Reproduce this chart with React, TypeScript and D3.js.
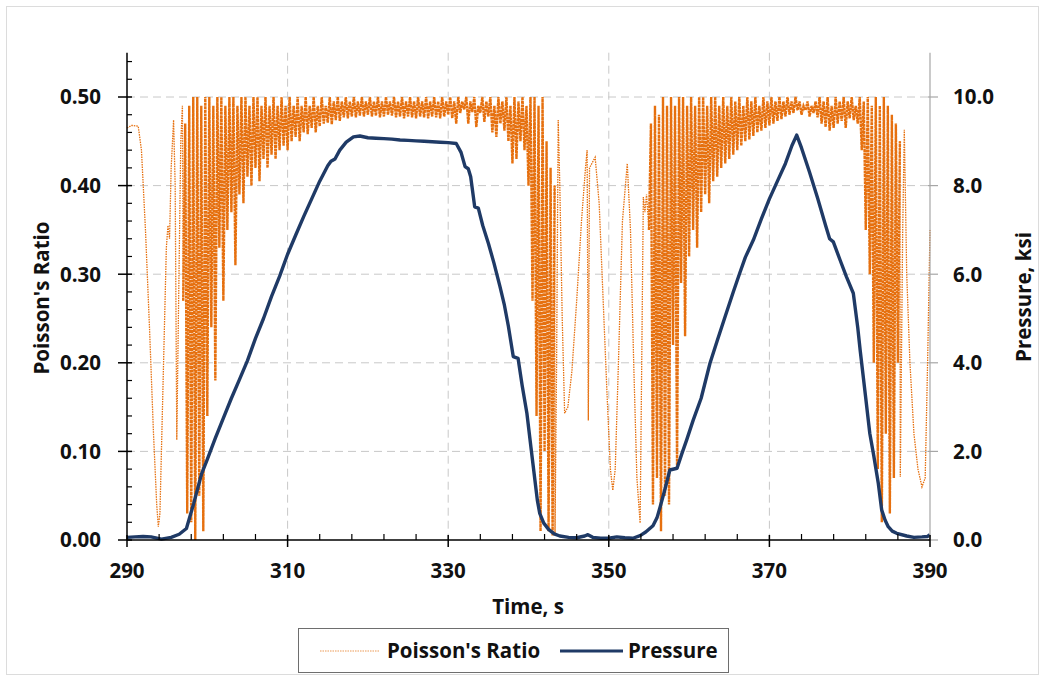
import React from "react";
import * as d3 from "d3";

// ---------- DATA ----------
const xTicksMajor = [290, 310, 330, 350, 370, 390];
const yLeftTicks = [0, 0.1, 0.2, 0.3, 0.4, 0.5];
const yRightTicks = [0, 2, 4, 6, 8, 10];

// Pressure (ksi) vs time (s)
const pressure: [number, number][] = [
  [290, 0.06], [291, 0.07], [292, 0.08], [293, 0.07], [294.3, 0.02], [295.5, 0.06], [296.5, 0.13],
  [297.4, 0.26], [298.3, 0.82], [299.3, 1.5], [300, 1.82], [301, 2.3], [302, 2.75], [303, 3.2],
  [304, 3.62], [305, 4.05], [306, 4.55], [307, 5.0], [308, 5.5], [309, 5.95], [310, 6.45],
  [311, 6.88], [312, 7.3], [313, 7.7], [314, 8.1], [315, 8.45], [315.4, 8.55], [315.9, 8.6],
  [316.5, 8.8], [317.3, 8.98], [318.2, 9.1], [319, 9.12], [320, 9.08], [321, 9.07], [322, 9.06],
  [323, 9.05], [324, 9.03], [325, 9.02], [326, 9.01], [327, 9.0], [328, 8.99], [329, 8.98],
  [330, 8.97], [331, 8.95], [331.6, 8.75], [332.1, 8.43], [332.5, 8.38], [332.8, 8.2],
  [333.3, 7.52], [333.75, 7.49], [334.3, 7.1], [335, 6.7], [335.7, 6.25], [336.45, 5.72],
  [337, 5.3], [337.5, 4.82], [338.1, 4.14], [338.7, 4.1], [339.2, 3.5], [339.8, 2.86],
  [340.3, 2.1], [340.8, 1.35], [341.1, 0.9], [341.4, 0.6], [341.9, 0.38], [342.5, 0.24],
  [343.2, 0.14], [343.9, 0.09], [345, 0.06], [346, 0.05], [347, 0.09], [347.4, 0.12],
  [348, 0.06], [349, 0.04], [350, 0.04], [351, 0.07], [352, 0.05], [353, 0.04], [353.9, 0.1],
  [354.6, 0.18], [355.5, 0.32], [356, 0.5], [356.4, 0.75], [357, 1.15], [357.6, 1.58],
  [358.5, 1.62], [359.1, 1.95], [359.7, 2.26], [360.5, 2.7], [361.5, 3.2], [362.6, 3.99],
  [363.5, 4.5], [364.5, 5.05], [365.5, 5.6], [366.3, 6.02], [367, 6.38], [368, 6.77],
  [369, 7.25], [370, 7.7], [371, 8.1], [372, 8.5], [372.8, 8.9], [373.4, 9.14], [374, 8.85],
  [375, 8.3], [376, 7.72], [377, 7.1], [377.5, 6.8], [377.96, 6.73], [378.8, 6.32],
  [379.6, 5.94], [380.45, 5.57], [381, 4.8], [381.3, 4.29], [382, 3.2], [382.5, 2.41],
  [383, 1.9], [383.56, 1.28], [383.98, 0.68], [384.4, 0.45], [384.8, 0.3], [385.3, 0.2],
  [385.85, 0.15], [387.1, 0.09], [388, 0.06], [389, 0.07], [389.7, 0.08], [390, 0.12],
];

// Poisson's ratio: sparse stretches as [time, value]
const poissonSparse1: [number, number][] = [
  [290, 0.465], [290.6, 0.468], [291.4, 0.467], [291.8, 0.44], [292.3, 0.35], [292.8, 0.24],
  [293.3, 0.12], [293.7, 0.04], [293.9, 0.015], [294.1, 0.03], [294.5, 0.18], [294.9, 0.33],
  [295.1, 0.355], [295.3, 0.34], [295.5, 0.42], [295.8, 0.474], [296.0, 0.4], [296.2, 0.113],
  [296.4, 0.25], [296.7, 0.45], [296.9, 0.49],
];
const poissonSparse2: [number, number][] = [
  [343.3, 0.005], [343.5, 0.2], [343.7, 0.474], [343.9, 0.4], [344.2, 0.25], [344.5, 0.143],
  [344.9, 0.15], [345.4, 0.19], [346, 0.27], [346.6, 0.36], [347.1, 0.42], [347.3, 0.44],
  [347.45, 0.135], [347.6, 0.42], [348.3, 0.432], [348.8, 0.38], [349.3, 0.27], [349.8, 0.16],
  [350.2, 0.08], [350.5, 0.056], [350.8, 0.08], [351.2, 0.2], [351.7, 0.36], [352.3, 0.425],
  [352.7, 0.35], [353.1, 0.2], [353.5, 0.07], [353.9, 0.019], [354.1, 0.2], [354.3, 0.387],
  [354.5, 0.37], [354.7, 0.39],
];
const poissonSparse3: [number, number][] = [
  [386.3, 0.071], [386.6, 0.35], [386.8, 0.463], [387.1, 0.3], [387.5, 0.2], [388, 0.12],
  [388.5, 0.08], [389, 0.06], [389.4, 0.07], [389.7, 0.2], [390, 0.35],
];

// Poisson's ratio: dense oscillation stretches, sampled every 0.5 s (low then high reading)
const denseStep = 0.5;
const dense1Start = 297.0;
const dense1Lo = [
  0.27, 0.03, 0.02, 0.0, 0.05, 0.01, 0.14, 0.24, 0.18, 0.33, 0.27, 0.35, 0.37, 0.31, 0.39, 0.38,
  0.41, 0.4, 0.42, 0.405, 0.43, 0.42, 0.435, 0.43, 0.44, 0.445, 0.44, 0.45, 0.455, 0.45, 0.46,
  0.458, 0.465, 0.46, 0.467, 0.47, 0.471, 0.469, 0.474, 0.473, 0.477, 0.476, 0.478, 0.477,
  0.479, 0.478, 0.48, 0.478, 0.479, 0.477, 0.478, 0.48, 0.479, 0.477, 0.478, 0.476, 0.478,
  0.477, 0.476, 0.478, 0.477, 0.476, 0.478, 0.477, 0.476, 0.478, 0.48, 0.476, 0.47, 0.482,
  0.486, 0.47, 0.483, 0.466, 0.482, 0.472, 0.478, 0.46, 0.455, 0.47, 0.462, 0.45, 0.425,
  0.43, 0.45, 0.44, 0.4, 0.27, 0.14, 0.01, 0.1, 0.01, 0.005,
];
const dense1Hi = [
  0.47, 0.49, 0.5, 0.5, 0.49, 0.5, 0.5, 0.49, 0.5, 0.5, 0.49, 0.5, 0.5, 0.49, 0.5, 0.5, 0.49,
  0.5, 0.5, 0.49, 0.5, 0.49, 0.5, 0.49, 0.5, 0.49, 0.5, 0.49, 0.5, 0.49, 0.5, 0.49, 0.5, 0.49,
  0.5, 0.49, 0.5, 0.495, 0.5, 0.495, 0.5, 0.495, 0.5, 0.495, 0.5, 0.495, 0.5, 0.495, 0.5,
  0.495, 0.5, 0.495, 0.5, 0.495, 0.5, 0.495, 0.5, 0.495, 0.5, 0.495, 0.5, 0.495, 0.5, 0.495,
  0.5, 0.495, 0.5, 0.495, 0.5, 0.495, 0.5, 0.495, 0.5, 0.49, 0.5, 0.495, 0.5, 0.49, 0.5,
  0.495, 0.5, 0.49, 0.5, 0.495, 0.5, 0.49, 0.5, 0.5, 0.49, 0.5, 0.45, 0.42, 0.4,
];
const dense2Start = 355.0;
const dense2Lo = [
  0.35, 0.04, 0.07, 0.01, 0.05, 0.04, 0.22, 0.08, 0.29, 0.23, 0.32, 0.35, 0.33, 0.37, 0.39,
  0.38, 0.405, 0.41, 0.42, 0.425, 0.43, 0.435, 0.44, 0.445, 0.45, 0.452, 0.456, 0.46, 0.462,
  0.465, 0.468, 0.47, 0.473, 0.475, 0.478, 0.48, 0.482, 0.485, 0.48, 0.485, 0.478, 0.482,
  0.477, 0.47, 0.466, 0.462, 0.465, 0.47, 0.473, 0.465, 0.476, 0.474, 0.47, 0.44, 0.35, 0.3,
  0.2, 0.08, 0.02, 0.12, 0.03, 0.07, 0.2,
];
const dense2Hi = [
  0.47, 0.49, 0.48, 0.5, 0.49, 0.5, 0.49, 0.5, 0.5, 0.49, 0.5, 0.49, 0.5, 0.5, 0.49, 0.5, 0.5,
  0.49, 0.5, 0.49, 0.5, 0.495, 0.5, 0.49, 0.5, 0.495, 0.5, 0.49, 0.5, 0.495, 0.5, 0.495, 0.5,
  0.495, 0.5, 0.495, 0.5, 0.495, 0.49, 0.495, 0.49, 0.495, 0.5, 0.495, 0.5, 0.49, 0.5, 0.495,
  0.5, 0.495, 0.5, 0.49, 0.5, 0.495, 0.5, 0.49, 0.5, 0.49, 0.5, 0.49, 0.48, 0.47, 0.45,
];

const seriesNames = ["Poisson's Ratio", "Pressure"];

// ---------- STYLE ----------
const ORANGE = "#E6700F";
const BLUE = "#1F3A66";
const FONT = "'Open Sans', 'Liberation Sans', sans-serif";
const FS = 20.5;

export default function App() {
  const W = 1045;
  const H = 681;
  const left = 127;
  const right = 930;
  const bottom = 540;
  const x = d3.scaleLinear().domain([290, 390]).range([left, right]);
  const yL = d3.scaleLinear().domain([0, 0.55]).range([bottom, bottom - 0.55 * 886]);
  const yR = d3.scaleLinear().domain([0, 11]).range([bottom, bottom - 0.55 * 886]);
  const top = yL(0.55);

  const dense = (start: number, lo: number[], hi: number[]) =>
    lo.flatMap((v, i) => [
      [start + i * denseStep, v] as [number, number],
      [start + i * denseStep + denseStep / 2, hi[i]] as [number, number],
    ]);

  const d1 = dense(dense1Start, dense1Lo, dense1Hi);
  const d2 = dense(dense2Start, dense2Lo, dense2Hi);
  const s1 = poissonSparse1;
  const s2 = poissonSparse2;
  const s3 = poissonSparse3;
  // full series, split into thin (sparse) and packed (dense) stretches for drawing
  const thinParts: [number, number][][] = [
    [...s1, d1[0]],
    [d1[d1.length - 1], ...s2, d2[0]],
    [d2[d2.length - 1], ...s3],
  ];
  const denseParts = [d1, d2];

  const lineP = d3
    .line<[number, number]>()
    .x((d) => x(d[0]))
    .y((d) => yL(d[1]));
  const lineK = d3
    .line<[number, number]>()
    .x((d) => x(d[0]))
    .y((d) => yR(d[1]));

  const minorY = d3.range(0.02, 0.551, 0.02).filter((v) => Math.abs(v * 10 - Math.round(v * 10)) > 1e-6);
  const minorX = d3.range(290, 390.01, 4).filter((v) => (v - 290) % 20 !== 0);

  return (
    <svg
      width={W}
      height={H}
      style={{ position: "absolute", left: 0, top: 0, background: "#fff" }}
      fontFamily={FONT}
    >
      <rect x={6.5} y={6.5} width={1032} height={668} fill="#fff" stroke="#DCDCDC" />
      {/* gridlines */}
      {yLeftTicks.filter((v) => v > 0).map((v) => (
        <line key={"gy" + v} x1={left} x2={right} y1={yL(v)} y2={yL(v)} stroke="#C8C8C8" strokeWidth={1} strokeDasharray="8 5" />
      ))}
      {xTicksMajor.filter((v) => v > 290 && v < 390).map((v) => (
        <line key={"gx" + v} x1={x(v)} x2={x(v)} y1={top} y2={bottom} stroke="#C8C8C8" strokeWidth={1} strokeDasharray="8 5" />
      ))}

      {/* Poisson's ratio */}
      {thinParts.map((p, i) => (
        <path key={"tp" + i} d={lineP(p) || ""} fill="none" stroke={ORANGE} strokeWidth={1.3} strokeDasharray="1.5 1" />
      ))}
      {denseParts.map((p, i) => (
        <path key={"dp" + i} d={lineP(p) || ""} fill="none" stroke={ORANGE} strokeWidth={2.4} strokeDasharray="3 0.6" />
      ))}
      {/* Pressure */}
      <path d={lineK(pressure) || ""} fill="none" stroke={BLUE} strokeWidth={3.4} strokeLinejoin="round" />

      {/* left axis */}
      <line x1={left} x2={left} y1={top} y2={bottom} stroke="#000" strokeWidth={1.5} />
      {yLeftTicks.map((v) => (
        <g key={"yl" + v}>
          <line x1={left - 9} x2={left + 5} y1={yL(v)} y2={yL(v)} stroke="#000" strokeWidth={1.5} />
          <text x={101} y={yL(v)} dy="0.36em" textAnchor="end" fontSize={FS} fontWeight={700} fill="#111">
            {v.toFixed(2)}
          </text>
        </g>
      ))}
      {minorY.map((v) => (
        <line key={"ym" + v} x1={left} x2={left + 5} y1={yL(v)} y2={yL(v)} stroke="#000" strokeWidth={1.2} />
      ))}

      {/* right axis */}
      <line x1={right} x2={right} y1={top} y2={bottom} stroke="#A6A6A6" strokeWidth={1.2} />
      {yRightTicks.map((v) => (
        <g key={"yr" + v}>
          <line x1={right - 2} x2={right + 8} y1={yR(v)} y2={yR(v)} stroke="#A6A6A6" strokeWidth={1.2} />
          <text x={953} y={yR(v)} dy="0.36em" textAnchor="start" fontSize={FS} fontWeight={700} fill="#111">
            {v.toFixed(1)}
          </text>
        </g>
      ))}

      {/* x axis */}
      <line x1={left} x2={right} y1={bottom} y2={bottom} stroke="#000" strokeWidth={1.5} />
      {xTicksMajor.map((v) => (
        <g key={"xt" + v}>
          <line x1={x(v)} x2={x(v)} y1={bottom - 5} y2={bottom + 7} stroke="#000" strokeWidth={1.5} />
          <text x={x(v)} y={578} textAnchor="middle" fontSize={FS} fontWeight={700} fill="#111">
            {v}
          </text>
        </g>
      ))}
      {minorX.map((v) => (
        <line key={"xm" + v} x1={x(v)} x2={x(v)} y1={bottom - 6} y2={bottom} stroke="#000" strokeWidth={1.2} />
      ))}

      {/* axis titles */}
      <text x={528} y={614} textAnchor="middle" fontSize={FS} fontWeight={700} fill="#111">
        Time, s
      </text>
      <text transform={`translate(49,298) rotate(-90)`} textAnchor="middle" fontSize={FS} fontWeight={700} fill="#111">
        Poisson's Ratio
      </text>
      <text transform={`translate(1031,297) rotate(-90)`} textAnchor="middle" fontSize={FS} fontWeight={700} fill="#111">
        Pressure, ksi
      </text>

      {/* legend */}
      <rect x={298.5} y={628.5} width={430} height={44} fill="#fff" stroke="#6E6E6E" strokeWidth={1} />
      <line x1={320} x2={380} y1={651} y2={651} stroke={ORANGE} strokeWidth={1.2} strokeDasharray="1.5 1" opacity={0.7} />
      <text x={387} y={658} fontSize={FS} fontWeight={700} fill="#111">
        {seriesNames[0]}
      </text>
      <line x1={560} x2={623} y1={651} y2={651} stroke={BLUE} strokeWidth={3.2} />
      <text x={628} y={658} fontSize={FS} fontWeight={700} fill="#111">
        {seriesNames[1]}
      </text>
    </svg>
  );
}
